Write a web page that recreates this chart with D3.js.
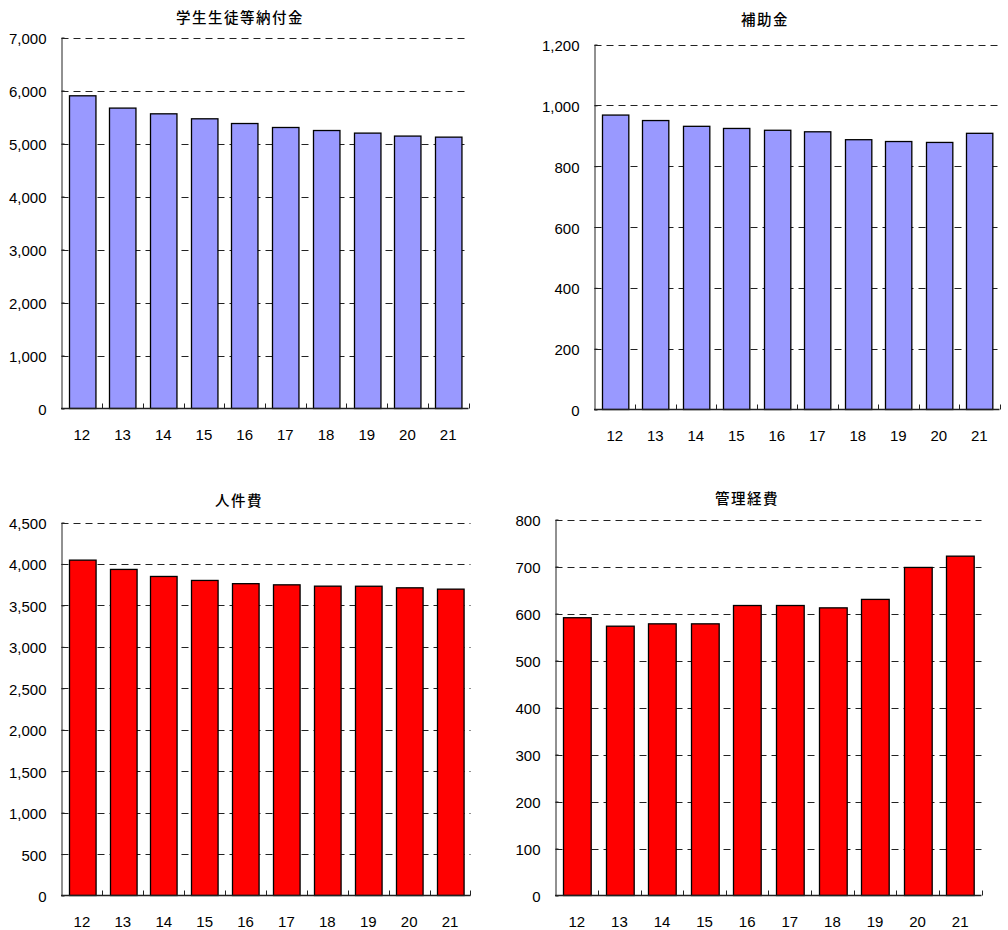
<!DOCTYPE html>
<html>
<head>
<meta charset="utf-8">
<script src="https://cdn.jsdelivr.net/npm/d3@7"></script>
<style>
  html, body { margin: 0; padding: 0; background: #fff; }
  svg { display: block; }
  text { fill: #000; }
</style>
</head>
<body>
<svg id="chart" width="1008" height="930"></svg>
<script>
// ---- Data ----
const years = ["12", "13", "14", "15", "16", "17", "18", "19", "20", "21"];

const title1 = "学生生徒等納付金";
const values1 = [5900, 5668, 5560, 5466, 5377, 5302, 5245, 5196, 5140, 5120];
const ticks1 = [0, 1000, 2000, 3000, 4000, 5000, 6000, 7000];

const title2 = "補助金";
const values2 = [968, 950, 931, 924, 918, 913, 887, 881, 878, 908];
const ticks2 = [0, 200, 400, 600, 800, 1000, 1200];

const title3 = "人件費";
const values3 = [4046, 3934, 3849, 3801, 3762, 3748, 3732, 3731, 3712, 3696];
const ticks3 = [0, 500, 1000, 1500, 2000, 2500, 3000, 3500, 4000, 4500];

const title4 = "管理経費";
const values4 = [591, 573, 578, 578, 617, 617, 612, 630, 698, 722];
const ticks4 = [0, 100, 200, 300, 400, 500, 600, 700, 800];

// ---- Layout (positions only) ----
const panels = [
  { title: title1, values: values1, ticks: ticks1, color: "#9999FF",
    left: 61.5, right: 468.5, top: 37.5, bottom: 408.5, tx: 240, ty: 23 },
  { title: title2, values: values2, ticks: ticks2, color: "#9999FF",
    left: 594.5, right: 999.5, top: 44.5, bottom: 409.5, tx: 765, ty: 25 },
  { title: title3, values: values3, ticks: ticks3, color: "#FF0000",
    left: 61.5, right: 470.5, top: 522.5, bottom: 895.5, tx: 239, ty: 506 },
  { title: title4, values: values4, ticks: ticks4, color: "#FF0000",
    left: 555.5, right: 981.5, top: 519.5, bottom: 895.5, tx: 747, ty: 504 }
];

const numFont = "'Liberation Sans', Arial, sans-serif";
const cjkFont = "'Noto Sans CJK JP', sans-serif";
const fmt = d3.format(",");
const svg = d3.select("#chart");

panels.forEach(p => {
  const g = svg.append("g");
  const x = d3.scaleBand().domain(years).range([p.left, p.right])
    .paddingInner(0.35).paddingOuter(0.175);
  const y = d3.scaleLinear()
    .domain([0, p.ticks[p.ticks.length - 1]])
    .range([p.bottom, p.top]);

  // title
  g.append("text")
    .attr("x", p.tx).attr("y", p.ty)
    .attr("text-anchor", "middle")
    .style("font-family", cjkFont)
    .style("font-size", "14.5px")
    .style("font-weight", "500")
    .style("letter-spacing", "1.5px")
    .text(p.title);

  // dashed gridlines
  g.selectAll("line.grid").data(p.ticks.filter(t => t > 0)).enter()
    .append("line")
    .attr("x1", p.left).attr("x2", p.right)
    .attr("y1", d => Math.round(y(d)) + 0.5).attr("y2", d => Math.round(y(d)) + 0.5)
    .attr("stroke", "#222").attr("stroke-width", 1)
    .attr("stroke-dasharray", "7,5");

  // bars
  g.selectAll("rect.bar").data(p.values).enter()
    .append("rect")
    .attr("x", (d, i) => Math.round(x(years[i])) + 0.5)
    .attr("width", x.bandwidth())
    .attr("y", d => y(d))
    .attr("height", d => p.bottom - y(d))
    .attr("fill", p.color)
    .attr("stroke", "#000").attr("stroke-width", 1.3);

  // y axis
  const yAxis = d3.axisLeft(y).tickValues(p.ticks).tickFormat(fmt)
    .tickSizeInner(-3).tickSizeOuter(0).tickPadding(15);
  const ya = g.append("g").attr("transform", `translate(${p.left},0)`).call(yAxis);
  ya.select(".domain").attr("stroke", "#222");
  ya.selectAll(".tick line").attr("stroke", "#222");
  ya.selectAll(".tick text")
    .style("font-size", "15px")
    .style("font-family", numFont)
    .attr("dy", "0.4em");

  // x axis with ticks at band boundaries (pointing up)
  g.append("line")
    .attr("x1", p.left - 0.5).attr("x2", p.right)
    .attr("y1", p.bottom).attr("y2", p.bottom)
    .attr("stroke", "#222").attr("stroke-width", 1.5);
  const step = x.step();
  const bounds = years.map((d, i) => x(d) - x.paddingOuter() * step + step);
  g.selectAll("line.xt").data(bounds).enter()
    .append("line")
    .attr("x1", d => Math.round(d) + 0.5).attr("x2", d => Math.round(d) + 0.5)
    .attr("y1", p.bottom).attr("y2", p.bottom - 5)
    .attr("stroke", "#222");
  g.selectAll("text.xl").data(years).enter()
    .append("text")
    .attr("x", d => x(d) + x.bandwidth() / 2)
    .attr("y", p.bottom + 31.5)
    .attr("text-anchor", "middle")
    .style("font-family", numFont)
    .style("font-size", "15px")
    .text(d => d);
});
</script>
</body>
</html>
